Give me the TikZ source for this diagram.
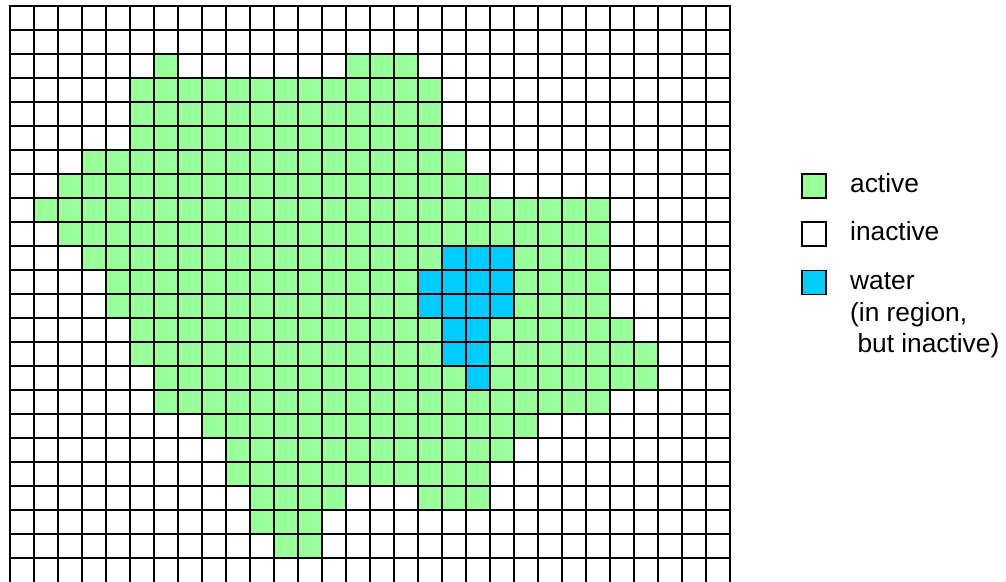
\documentclass[tikz,border=0pt]{standalone}
\usepackage{fontspec}
\setmainfont{Liberation Sans}
\definecolor{act}{HTML}{99FF99}
\definecolor{wat}{HTML}{00CCFF}
\begin{document}
\begin{tikzpicture}[x=1pt,y=-1pt,
  gridline/.style={draw=black,line width=1.4pt,line cap=rect},
  legbox/.style={draw=black,line width=1.4pt,minimum width=24pt,minimum height=24pt,inner sep=0pt},
  legtext/.style={anchor=base west,inner sep=0pt,font=\fontsize{26.3}{31.7}\selectfont}]
\useasboundingbox (0,0) rectangle (1006,581);
\fill[white] (0,0) rectangle (1006,581);
% active cells
\foreach \r/\a/\b in {2/6/6, 2/14/16, 3/5/17, 4/5/17, 5/5/17, 6/3/18, 7/2/19, 8/1/24, 9/2/24, 10/3/24, 11/4/24, 12/4/24, 13/5/25, 14/5/26, 15/6/26, 16/6/24, 17/8/21, 18/9/20, 19/9/19, 20/10/13, 20/17/19, 21/10/12, 22/11/12}{
  \foreach \c in {\a,...,\b}{
    \fill[act] ({10+24*\c},{6+24*\r}) rectangle ++(24,24);
  }
}
% water cells
\foreach \r/\a/\b in {10/18/20, 11/17/20, 12/17/20, 13/18/19, 14/18/19, 15/19/19}{
  \foreach \c in {\a,...,\b}{
    \fill[wat] ({10+24*\c},{6+24*\r}) rectangle ++(24,24);
  }
}
% grid lines
\foreach \k in {0,...,30}{
  \draw[gridline] ({10+24*\k},6) -- ({10+24*\k},585);
}
\foreach \k in {0,...,23}{
  \draw[gridline] (10,{6+24*\k}) -- (730,{6+24*\k});
}
% legend
\node[legbox,fill=act] (kA) at (814,185.8) {};
\node[legbox,fill=white] (kI) at (814,234) {};
\node[legbox,fill=wat] (kW) at (814,282.5) {};
\node[legtext] (tA) at (850,192.3) {active};
\node[legtext] (tI) at (850,240.7) {inactive};
\node[legtext] (tW1) at (850,289.3) {water};
\node[legtext] (tW2) at (850,321) {(in region,};
\node[legtext] (tW3) at (850,352.7) {\ but inactive)};
\end{tikzpicture}
\end{document}
